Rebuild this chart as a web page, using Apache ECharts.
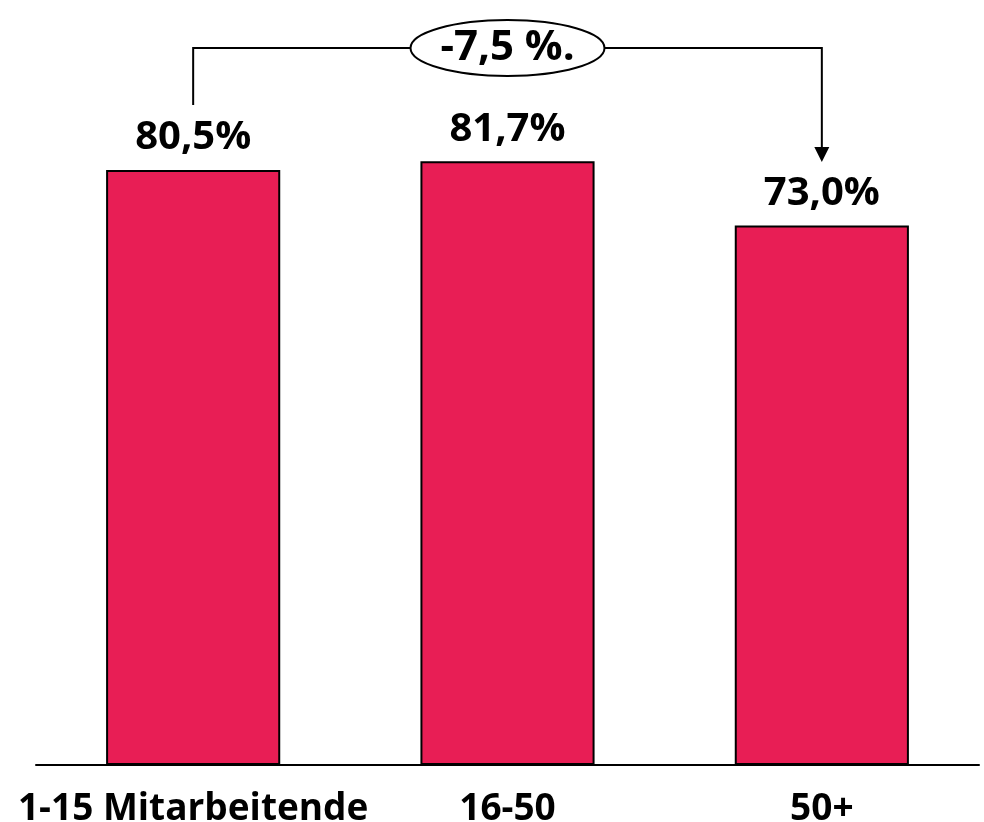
<!DOCTYPE html>
<html>
<head>
<meta charset="utf-8">
<script src="https://cdn.jsdelivr.net/npm/echarts@6/dist/echarts.min.js"></script>
<style>
  html, body { margin: 0; padding: 0; background: #fff; }
  #chart { width: 984px; height: 822px; }
</style>
</head>
<body>
<div id="chart"></div>
<script>
// Daten
const categories = ['1-15 Mitarbeitende', '16-50', '50+'];
const values = [80.5, 81.7, 73.0];
const diffLabel = '-7,5 %.';

const FONT = '"Open Sans", "Liberation Sans", sans-serif';
const chart = echarts.init(document.getElementById('chart'), null, { renderer: 'canvas' });

function fmt(v) {
    return v.toFixed(1).replace('.', ',') + '%';
}

const option = {
    backgroundColor: '#ffffff',
    animation: false,
    grid: { left: 36, right: 5, top: 26, bottom: 57, outerBoundsMode: 'none', containLabel: false },
    xAxis: {
        type: 'category',
        data: categories,
        axisLine: { show: true, lineStyle: { color: '#000', width: 2 } },
        axisTick: { show: false },
        axisLabel: {
            color: '#000',
            fontFamily: FONT,
            fontWeight: 'bold',
            fontSize: 37,
            margin: 26,
            interval: 0
        }
    },
    yAxis: {
        type: 'value',
        min: 0,
        max: 100,
        show: false,
        splitLine: { show: false }
    },
    series: [{
        type: 'bar',
        data: values,
        barWidth: '55.4%',
        itemStyle: {
            color: '#E81E55',
            borderColor: '#000',
            borderWidth: 2
        },
        label: {
            show: true,
            position: 'top',
            distance: 12,
            color: '#000',
            fontFamily: FONT,
            fontWeight: 'bold',
            fontSize: 40,
            formatter: p => fmt(p.value)
        }
    }]
};
chart.setOption(option);

// Annotation: Klammer vom ersten zum letzten Balken
const first = chart.convertToPixel({ seriesIndex: 0 }, [0, values[0]]);
const last = chart.convertToPixel({ seriesIndex: 0 }, [2, values[2]]);
const yLine = 48;
const cx = (first[0] + last[0]) / 2;
const rx = 97, ry = 28;

chart.setOption({
    graphic: [
        {
            type: 'polyline',
            shape: { points: [[first[0], 105], [first[0], yLine], [cx - rx, yLine]] },
            style: { stroke: '#000', lineWidth: 2, fill: null }
        },
        {
            type: 'polyline',
            shape: { points: [[cx + rx, yLine], [last[0], yLine], [last[0], 148]] },
            style: { stroke: '#000', lineWidth: 2, fill: null }
        },
        {
            type: 'polygon',
            shape: { points: [[last[0] - 7.5, 147], [last[0] + 7.5, 147], [last[0], 162]] },
            style: { fill: '#000' }
        },
        {
            type: 'ellipse',
            shape: { cx: cx, cy: yLine, rx: rx, ry: ry },
            style: { fill: '#fff', stroke: '#000', lineWidth: 2 }
        },
        {
            type: 'text',
            x: cx,
            y: yLine,
            style: {
                text: diffLabel,
                fill: '#000',
                font: 'bold 42px ' + FONT,
                align: 'center',
                verticalAlign: 'middle'
            }
        }
    ]
});
</script>
</body>
</html>
